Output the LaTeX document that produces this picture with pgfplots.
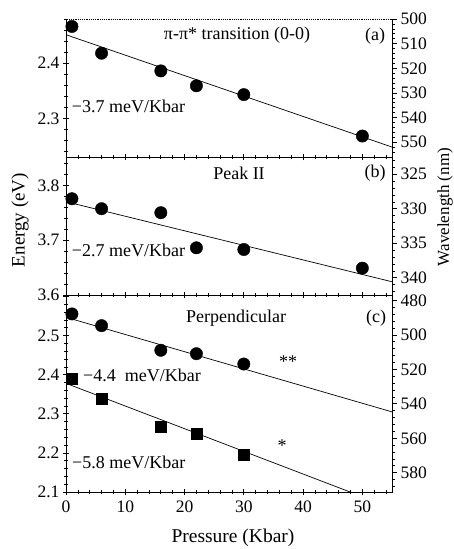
\documentclass[border=0pt]{standalone}
\usepackage{fontspec}
\setmainfont{Liberation Serif}
\usepackage{pgfplots}
\pgfplotsset{compat=1.18}

\pgfplotstableread{
p E
1 2.4665
6 2.418
16 2.386
22 2.359
30 2.343
50 2.268
}\dataA
\pgfplotstableread{
p E
1 3.7758
6 3.7576
16 3.7503
22 3.6862
30 3.6831
50 3.649
}\dataB
\pgfplotstableread{
p E
1 2.5556
6 2.5256
16 2.4626
22 2.4538
30 2.4274
}\dataCc
\pgfplotstableread{
p E
1 2.3905
6 2.3385
16 2.2674
22 2.248
30 2.1964
}\dataCs

\pgfplotsset{
 panel/.style={scale only axis, width=326pt, xmin=0, xmax=55,
  xtick={0,10,...,50},
  minor xtick={2,4,6,8,12,14,16,18,22,24,26,28,32,34,36,38,42,44,46,48,52,54},
  xtick pos=both, ytick pos=left, tick align=center,
  major tick length=6pt, minor tick length=4pt,
  axis line style={line width=0.9pt},
  every tick/.style={black, line width=0.7pt},
  tick label style={font=\rmfamily\fontsize{17.5}{20}\selectfont},
  /pgf/number format/assume math mode=true,
  scaled ticks=false},
 rpanel/.style={scale only axis, width=326pt, xmin=0, xmax=55,
  axis x line=none, axis y line*=right, y dir=reverse,
  tick align=outside, major tick length=5pt, minor tick length=3pt,
  axis line style={line width=0.9pt},
  every tick/.style={black, line width=0.7pt},
  tick label style={font=\rmfamily\fontsize{17.5}{20}\selectfont},
  /pgf/number format/assume math mode=true,
  scaled ticks=false},
 circ/.style={only marks, mark=*, mark size=6.2pt, black},
 sq/.style={only marks, mark=square*, mark size=5.5pt, black},
 fit/.style={black, line width=0.7pt, no marks}
}

\begin{document}
\begin{tikzpicture}
\useasboundingbox (0pt,0pt) rectangle (453pt,-549pt);

% ---------- panel (a)
\begin{axis}[panel, name=A, at={(66pt,-157pt)}, anchor=south west, height=138pt,
  xtick pos=bottom,
  ymin=2.23, ymax=2.48, ytick={2.3,2.4},
  minor ytick={2.24,2.26,2.28,2.32,2.34,2.36,2.38,2.42,2.44,2.46,2.48},
  xticklabels={}]
\addplot[fit] coordinates {(0,2.4515) (55,2.2480)};
\addplot[circ] table[x=p,y=E] {\dataA};
\end{axis}
\begin{axis}[rpanel, at={(66pt,-157pt)}, anchor=south west, height=138pt,
  ymin=500, ymax=556, ytick={500,510,...,550},
  minor ytick={502,504,506,508,512,514,516,518,522,524,526,528,532,534,536,538,542,544,546,548,552,554}]
\addplot[draw=none] coordinates {(0,520)};
\end{axis}
\draw[white, line width=1.8pt] ([xshift=1pt]A.north west) -- ([xshift=-1pt]A.north east);
\draw[line width=0.9pt, dash pattern=on 1.2pt off 1pt] ([xshift=0.5pt]A.north west) -- ([xshift=-0.5pt]A.north east);

% ---------- panel (b)
\begin{axis}[panel, at={(66pt,-295pt)}, anchor=south west, height=138pt,
  ymin=3.6, ymax=3.852, ytick={3.6,3.7,3.8},
  minor ytick={3.62,3.64,3.66,3.68,3.72,3.74,3.76,3.78,3.82,3.84},
  xticklabels={}]
\addplot[fit] coordinates {(0,3.7704) (55,3.6242)};
\addplot[circ] table[x=p,y=E] {\dataB};
\end{axis}
\begin{axis}[rpanel, at={(66pt,-295pt)}, anchor=south west, height=138pt,
  ymin=322.5, ymax=342.5, ytick={325,330,335,340},
  minor ytick={323,324,326,327,328,329,331,332,333,334,336,337,338,339,341,342}]
\addplot[draw=none] coordinates {(0,330)};
\end{axis}

% ---------- panel (c)
\begin{axis}[panel, at={(66pt,-492pt)}, anchor=south west, height=197pt,
  ymin=2.1, ymax=2.604, ytick={2.1,2.2,2.3,2.4,2.5,2.6},
  yticklabels={2.1,2.2,2.3,2.4,2.5,},
  minor ytick={2.12,2.14,2.16,2.18,2.22,2.24,2.26,2.28,2.32,2.34,2.36,2.38,2.42,2.44,2.46,2.48,2.52,2.54,2.56,2.58},
  xticklabel style={yshift=-2pt}]
\addplot[fit] coordinates {(0,2.547) (55,2.305)};
\addplot[fit] coordinates {(0,2.378) (55,2.059)};
\addplot[circ] table[x=p,y=E] {\dataCc};
\addplot[sq] table[x=p,y=E] {\dataCs};
\end{axis}
\begin{axis}[rpanel, at={(66pt,-492pt)}, anchor=south west, height=197pt,
  ymin=476.8, ymax=591.2, ytick={480,500,...,580},
  minor ytick={484,488,492,496,504,508,512,516,524,528,532,536,544,548,552,556,564,568,572,576,584,588}]
\addplot[draw=none] coordinates {(0,520)};
\end{axis}

% ---------- texts
\def\af{\rmfamily\fontsize{18}{21}\selectfont}
\node[font=\af] at (237pt,-35pt) {π-π* transition (0-0)};
\node[font=\af] at (375pt,-36pt) {(a)};
\node[font=\af, anchor=west, inner sep=0pt] at (71.7pt,-106pt) {−3.7 meV/Kbar};
\node[font=\af] at (239pt,-173pt) {Peak II};
\node[font=\af] at (375pt,-173pt) {(b)};
\node[font=\af, anchor=west, inner sep=0pt] at (71.7pt,-250pt) {−2.7 meV/Kbar};
\node[font=\af] at (236pt,-318pt) {Perpendicular};
\node[font=\af] at (376pt,-318pt) {(c)};
\node[font=\af, anchor=west, inner sep=0pt] at (83pt,-375pt) {−4.4\ \ meV/Kbar};
\node[font=\af, anchor=west, inner sep=0pt] at (72pt,-462pt) {−5.8 meV/Kbar};
\node[font=\af] at (288pt,-362pt) {**};
\node[font=\af] at (282pt,-446pt) {*};
\node[font=\rmfamily\fontsize{19}{22}\selectfont, rotate=90] at (20pt,-220pt) {Energy (eV)};
\node[font=\rmfamily\fontsize{17}{20}\selectfont, rotate=90] at (445pt,-207pt) {Wavelength (nm)};
\node[font=\rmfamily\fontsize{19.5}{22}\selectfont] at (233pt,-538pt) {Pressure (Kbar)};
\end{tikzpicture}
\end{document}
